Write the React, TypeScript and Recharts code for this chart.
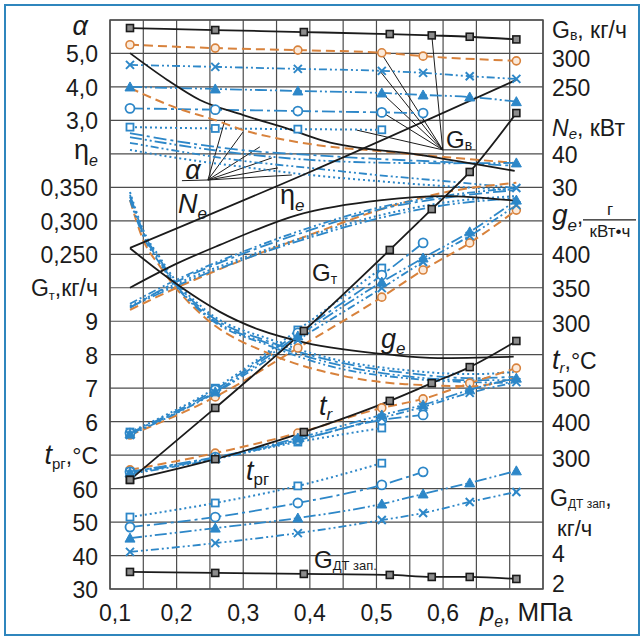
import React from 'react'
import { ComposedChart, Line, XAxis, YAxis, CartesianGrid, ReferenceLine, ReferenceArea, Customized } from 'recharts'

const BLACK = '#1b1b1b'
const ORANGE = '#d8823c'
const BLUE = '#2d87c8'
const FONT = '"Liberation Sans", Arial, sans-serif'

// p_e, МПа – measurement points
const pK = [0.13, 0.258, 0.391, 0.52, 0.583, 0.64, 0.71]
const pA = [0.13, 0.258, 0.382, 0.508, 0.57, 0.64, 0.71]
const pGvO = [0.13, 0.258, 0.382, 0.508, 0.57, 0.71]
const pCurve = [0.13, 0.2, 0.3, 0.4, 0.5, 0.6, 0.71]
const pAlphaK = [0.13, 0.186, 0.235, 0.3, 0.373, 0.4225, 0.565, 0.7075]
const pAlphaO = [0.13, 0.2, 0.258, 0.3, 0.35, 0.412, 0.5, 0.6, 0.7075]
const pNe = [0.13, 0.4, 0.71]
const pEtaK = [0.13, 0.2, 0.265, 0.382, 0.508, 0.6, 0.71]
const pGeK = [0.13, 0.1855, 0.235, 0.265, 0.325, 0.3925, 0.52, 0.592, 0.706]
const pGe = [0.13, 0.15, 0.175, 0.193, 0.243, 0.343, 0.442, 0.543, 0.643, 0.706]

// G_в, кг/ч
const gvK = [338, 335, 332, 329, 327, 325, 321]
const gvO = [313, 308, 305, 301, 296, 289]
const gvX = [283, 280, 277, 274, 271, 266, 262]
const gvT = [250, 247, 244, 241, 238, 235, 228]
const gvC = [218, 216, 214, 212, 211]
const gvS = [190, 188, 187, 186]

// alpha
const alphaK = [5.01, 4.21, 3.61, 3.16, 2.71, 2.38, 1.97, 1.49]
const alphaO = [3.97, 3.37, 3.01, 2.71, 2.47, 2.26, 2.09, 1.91, 1.73]
const alphaC = [2.62, 2.38, 2.11, 1.97, 1.85, 1.76, 1.64]
const alphaT = [2.5, 2.27, 2.0, 1.82, 1.74, 1.72, 1.73]
const alphaX = [2.33, 2.09, 1.79, 1.58, 1.37, 1.19, 0.98]
const alphaS = [2.12, 1.88, 1.61, 1.37, 1.19, 1.04, 0.92]

// N_e, кВт
const neK = [11.9, 34.6, 62.1]

// eta_e
const etaK = [0.2, 0.236, 0.264, 0.309, 0.331, 0.337, 0.33]
const etaO = [0.167, 0.2, 0.242, 0.279, 0.315, 0.342, 0.357]
const etaS = [0.173, 0.206, 0.245, 0.278, 0.307, 0.327, 0.337]
const etaC = [0.17, 0.209, 0.251, 0.286, 0.316, 0.334, 0.346]
const etaT = [0.171, 0.203, 0.242, 0.275, 0.303, 0.323, 0.334]
const etaX = [0.176, 0.212, 0.254, 0.29, 0.319, 0.337, 0.349]

// g_e, г/(кВт·ч)
const geK = [409, 366, 332, 314, 287, 268, 250, 245, 247]
const geO = [481, 421, 382, 357, 305, 250, 220, 206, 203, 215]
const geS = [493, 436, 395, 368, 317, 272, 242, 227, 221, 224]
const geC = [489, 433, 392, 365, 314, 268, 239, 223, 215, 217]
const geT = [486, 430, 389, 362, 311, 265, 235, 218, 212, 212]
const geX = [481, 427, 386, 360, 309, 262, 230, 215, 209, 208]

// G_т, кг/ч
const gtK = [4.26, 6.41, 8.71, 11.13, 12.35, 13.46, 15.22]
const gtO = [5.6, 6.74, 8.2, 9.72, 10.53, 11.34, 12.32]
const gtS = [5.69, 7.0, 8.74, 10.59]
const gtC = [5.66, 6.95, 8.65, 10.38, 11.34]
const gtT = [5.63, 6.89, 8.56, 10.17, 10.89, 11.67, 12.62]
const gtX = [5.6, 6.86, 8.44, 9.99, 10.77, 11.55, 12.47]

// t_r, °C
const trK = [226, 288, 369, 462, 515, 563, 641]
const trO = [256, 306, 366, 441, 468, 515, 560]
const trS = [250, 291, 339, 381]
const trC = [250, 294, 345, 405, 420]
const trT = [247, 291, 351, 420, 450, 495, 530]
const trX = [244, 288, 345, 411, 444, 486, 518]

// t_рг, °C
const trgS = [51.5, 55.7, 60.8, 67.6]
const trgC = [48.5, 51.5, 55.7, 61.1, 65.0]
const trgT = [45.2, 48.2, 51.2, 55.4, 58.4, 61.7, 65.3]
const trgX = [41.1, 43.7, 46.7, 50.6, 52.7, 56.0, 59.0]

// G_ДТзап, кг/ч
const gdtK = [3.02, 2.96, 2.9, 2.84, 2.72, 2.72, 2.6]

// tick labels, by grid row (0 = bottom)
const leftTicks = ['30', '40', '50', '60', 'tpg', '6', '7', '8', '9', 'Gt', '0,250', '0,300', '0,350', 'eta', '3,0', '4,0', '5,0', 'alpha']
const rightTicks = ['2', '4', 'kgh', 'Gdt', '300', '400', '500', 'tr', '300', '350', '400', 'ge', '30', '40', 'Ne', '250', '300', 'Gv']
const xTicks = [0.1, 0.15, 0.2, 0.25, 0.3, 0.35, 0.4, 0.45, 0.5, 0.55, 0.6, 0.65, 0.7, 0.75]
const xLabels: Record<string, string> = { '0.1': '0,1', '0.2': '0,2', '0.3': '0,3', '0.4': '0,4', '0.5': '0,5', '0.6': '0,6' }
const rows = Array.from({ length: 18 }, (_, i) => i)

type Pt = { p: number; v: number }
const pts = (ps: number[], vs: number[]): Pt[] => vs.map((v, i) => ({ p: ps[i], v }))

const styles: Record<string, { stroke: string; dash?: string; width: number }> = {
  K: { stroke: BLACK, width: 1.8 },
  O: { stroke: ORANGE, dash: '9 5', width: 2 },
  X: { stroke: BLUE, dash: '8 3 2 3 2 3', width: 1.8 },
  T: { stroke: BLUE, dash: '12 3 2 3 2 3', width: 1.8 },
  C: { stroke: BLUE, dash: '13 4 3 4', width: 1.8 },
  S: { stroke: BLUE, dash: '2 3', width: 2 },
}

// dots: 'all' | 'none' | 'end'
type Series = { id: string; axis: string; kind: string; data: Pt[]; dots: string }
const series: Series[] = [
  // colored first, black on top
  { id: 'gvO', axis: 'gv', kind: 'O', data: pts(pGvO, gvO), dots: 'all' },
  { id: 'gvX', axis: 'gv', kind: 'X', data: pts(pA, gvX), dots: 'all' },
  { id: 'gvT', axis: 'gv', kind: 'T', data: pts(pA, gvT), dots: 'all' },
  { id: 'gvC', axis: 'gv', kind: 'C', data: pts(pA, gvC), dots: 'all' },
  { id: 'gvS', axis: 'gv', kind: 'S', data: pts(pA, gvS), dots: 'all' },
  { id: 'alphaO', axis: 'alpha', kind: 'O', data: pts(pAlphaO, alphaO), dots: 'none' },
  { id: 'alphaC', axis: 'alpha', kind: 'C', data: pts(pCurve, alphaC), dots: 'none' },
  { id: 'alphaT', axis: 'alpha', kind: 'T', data: pts(pCurve, alphaT), dots: 'end' },
  { id: 'alphaX', axis: 'alpha', kind: 'X', data: pts(pCurve, alphaX), dots: 'none' },
  { id: 'alphaS', axis: 'alpha', kind: 'S', data: pts(pCurve, alphaS), dots: 'none' },
  { id: 'etaO', axis: 'eta', kind: 'O', data: pts(pCurve, etaO), dots: 'none' },
  { id: 'etaS', axis: 'eta', kind: 'S', data: pts(pCurve, etaS), dots: 'none' },
  { id: 'etaC', axis: 'eta', kind: 'C', data: pts(pCurve, etaC), dots: 'none' },
  { id: 'etaT', axis: 'eta', kind: 'T', data: pts(pCurve, etaT), dots: 'none' },
  { id: 'etaX', axis: 'eta', kind: 'X', data: pts(pCurve, etaX), dots: 'end' },
  { id: 'geO', axis: 'ge', kind: 'O', data: pts(pGe, geO), dots: 'none' },
  { id: 'geS', axis: 'ge', kind: 'S', data: pts(pGe, geS), dots: 'none' },
  { id: 'geC', axis: 'ge', kind: 'C', data: pts(pGe, geC), dots: 'none' },
  { id: 'geT', axis: 'ge', kind: 'T', data: pts(pGe, geT), dots: 'none' },
  { id: 'geX', axis: 'ge', kind: 'X', data: pts(pGe, geX), dots: 'none' },
  { id: 'gtO', axis: 'gt', kind: 'O', data: pts(pA, gtO), dots: 'all' },
  { id: 'gtS', axis: 'gt', kind: 'S', data: pts(pA, gtS), dots: 'all' },
  { id: 'gtC', axis: 'gt', kind: 'C', data: pts(pA, gtC), dots: 'all' },
  { id: 'gtT', axis: 'gt', kind: 'T', data: pts(pA, gtT), dots: 'all' },
  { id: 'gtX', axis: 'gt', kind: 'X', data: pts(pA, gtX), dots: 'all' },
  { id: 'trO', axis: 'tr', kind: 'O', data: pts(pA, trO), dots: 'all' },
  { id: 'trS', axis: 'tr', kind: 'S', data: pts(pA, trS), dots: 'all' },
  { id: 'trC', axis: 'tr', kind: 'C', data: pts(pA, trC), dots: 'all' },
  { id: 'trT', axis: 'tr', kind: 'T', data: pts(pA, trT), dots: 'all' },
  { id: 'trX', axis: 'tr', kind: 'X', data: pts(pA, trX), dots: 'all' },
  { id: 'trgS', axis: 'trg', kind: 'S', data: pts(pA, trgS), dots: 'all' },
  { id: 'trgC', axis: 'trg', kind: 'C', data: pts(pA, trgC), dots: 'all' },
  { id: 'trgT', axis: 'trg', kind: 'T', data: pts(pA, trgT), dots: 'all' },
  { id: 'trgX', axis: 'trg', kind: 'X', data: pts(pA, trgX), dots: 'all' },
  { id: 'gvK', axis: 'gv', kind: 'K', data: pts(pK, gvK), dots: 'all' },
  { id: 'alphaK', axis: 'alpha', kind: 'K', data: pts(pAlphaK, alphaK), dots: 'none' },
  { id: 'neK', axis: 'ne', kind: 'K', data: pts(pNe, neK), dots: 'none' },
  { id: 'etaK', axis: 'eta', kind: 'K', data: pts(pEtaK, etaK), dots: 'none' },
  { id: 'geK', axis: 'ge', kind: 'K', data: pts(pGeK, geK), dots: 'none' },
  { id: 'gtK', axis: 'gt', kind: 'K', data: pts(pK, gtK), dots: 'all' },
  { id: 'trK', axis: 'tr', kind: 'K', data: pts(pK, trK), dots: 'all' },
  { id: 'gdtK', axis: 'gdt', kind: 'K', data: pts(pK, gdtK), dots: 'all' },
]

// hidden value axes, all spanning the 17 grid rows
const axes: Record<string, [number, number]> = {
  alpha: [-11, 6],
  gv: [-500, 350],
  ne: [-90, 80],
  eta: [-0.25, 0.6],
  ge: [-100, 750],
  gt: [1, 18],
  tr: [-100, 1600],
  trg: [30, 200],
  gdt: [2, 36],
}

// leader lines, in (p_e, grid row)
const alphaFrom = { x: 0.247, y: 12.22 }
const alphaTo = [[0.2725, 14.01], [0.2995, 13.65], [0.325, 13.21], [0.343, 12.88], [0.352, 12.58], [0.373, 12.37]]
const gvFrom = { x: 0.5995, y: 13.12 }
const gvTo = [[0.583, 16.55], [0.508, 15.98], [0.505, 15.48], [0.508, 14.82], [0.508, 14.25], [0.4705, 13.71]]

const marker = (kind: string, endOnly: boolean, last: number) => (props: any) => {
  const { cx, cy, index } = props
  if (cx == null || cy == null || (endOnly && index !== last)) return <g key={index} />
  if (kind === 'K') return <rect key={index} x={cx - 3.5} y={cy - 3.5} width={7} height={7} fill="#8c8c8c" stroke={BLACK} strokeWidth={1.6} />
  if (kind === 'O') return <circle key={index} cx={cx} cy={cy} r={4} fill="#fbeadb" stroke={ORANGE} strokeWidth={1.6} />
  if (kind === 'X') return <path key={index} d={`M${cx - 4},${cy - 4}L${cx + 4},${cy + 4}M${cx - 4},${cy + 4}L${cx + 4},${cy - 4}`} stroke={BLUE} strokeWidth={2} />
  if (kind === 'T') return <path key={index} d={`M${cx},${cy - 5}L${cx + 5},${cy + 4}L${cx - 5},${cy + 4}Z`} fill={BLUE} stroke={BLUE} />
  if (kind === 'C') return <circle key={index} cx={cx} cy={cy} r={4.5} fill="#fff" stroke={BLUE} strokeWidth={1.8} />
  return <rect key={index} x={cx - 3.5} y={cy - 3.5} width={7} height={7} fill="#fff" stroke={BLUE} strokeWidth={1.8} />
}

const txt = { fontFamily: FONT, fill: BLACK }

function LeftTick(props: any) {
  const { x, y, payload } = props
  const t = leftTicks[payload.value]
  const c = { ...txt, fontSize: 23, textAnchor: 'end' as const }
  if (t === 'alpha') return <text x={x - 10} y={y + 15} {...c} fontSize={27} fontStyle="italic">α</text>
  if (t === 'eta') return <text x={x} y={y + 5} {...c} fontSize={27}>η<tspan fontSize={16} dy={7} fontStyle="italic">e</tspan></text>
  if (t === 'Gt') return <text x={x} y={y + 8} {...c}>G<tspan fontSize={13} dy={4}>т</tspan><tspan dy={-4}>,кг/ч</tspan></text>
  if (t === 'tpg') return <text x={x} y={y + 9} {...c}><tspan fontStyle="italic" fontSize={27}>t</tspan><tspan fontSize={15} dy={5}>рг</tspan><tspan dy={-5}>,°C</tspan></text>
  return <text x={x} y={y + 9} {...c}>{t}</text>
}

function RightTick(props: any) {
  const { x, y, payload } = props
  const t = rightTicks[payload.value]
  const c = { ...txt, fontSize: 23, textAnchor: 'start' as const }
  if (t === 'Gv') return <text x={x} y={y + 18} {...c}>G<tspan fontSize={14} dy={2}>в</tspan><tspan dy={-2}>, кг/ч</tspan></text>
  if (t === 'Ne') return <text x={x} y={y + 16} {...c}><tspan fontStyle="italic">N</tspan><tspan fontSize={15} dy={3} fontStyle="italic">e</tspan><tspan dy={-3}>, кВт</tspan></text>
  if (t === 'ge')
    return (
      <g>
        <text x={x} y={y + 3} {...c} fontSize={28} fontStyle="italic">g<tspan fontSize={17} dy={7}>e</tspan><tspan dy={-7} fontStyle="normal" fontSize={22}>,</tspan></text>
        <text x={x + 58} y={y - 6} {...c} fontSize={17} textAnchor="middle">г</text>
        <line x1={x + 31} x2={x + 84} y1={y - 1} y2={y - 1} stroke={BLACK} strokeWidth={1.2} />
        <text x={x + 58} y={y + 16} {...c} fontSize={17} textAnchor="middle">кВт•ч</text>
      </g>
    )
  if (t === 'tr') return <text x={x} y={y + 14} {...c}><tspan fontStyle="italic" fontSize={27}>t</tspan><tspan fontSize={15} dy={4} fontStyle="italic">r</tspan><tspan dy={-4}>,°C</tspan></text>
  if (t === 'Gdt') return <text x={x - 2} y={y + 17} {...c}>G<tspan fontSize={12} dy={2}>ДТ зап</tspan><tspan dy={-2}>,</tspan></text>
  if (t === 'kgh') return <text x={x + 5} y={y + 14} {...c} fontSize={22}>кг/ч</text>
  const dy: Record<number, number> = { 16: 14, 0: 3, 1: 6.5, 4: 12, 8: 10.5 }
  return <text x={x} y={y + (dy[payload.value] ?? 9)} {...c}>{t}</text>
}

function XTick(props: any) {
  const { x, y, payload } = props
  const v = payload.value
  if (Math.abs(v - 0.7) < 1e-6)
    return (
      <text x={x - 30} y={y + 32} {...txt} fontSize={26}>
        <tspan fontStyle="italic">p</tspan><tspan fontSize={16} dy={6} fontStyle="italic">e</tspan><tspan dy={-6}>, МПа</tspan>
      </text>
    )
  const label = xLabels[String(Math.round(v * 100) / 100)]
  if (!label) return <g />
  return <text x={x + (v === 0.1 ? 5 : 0)} y={y + 32} {...txt} fontSize={23} textAnchor="middle">{label}</text>
}

function Annotations() {
  return (
    <g style={{ fontFamily: FONT }} fill={BLACK}>
      <text x={193} y={179} fontSize={27} fontStyle="italic" textAnchor="middle">α</text>
      <text x={178} y={213} fontSize={27} fontStyle="italic">N<tspan fontSize={17} dy={6}>e</tspan></text>
      <text x={280} y={204} fontSize={27}>η<tspan fontSize={17} dy={7} fontStyle="italic">e</tspan></text>
      <text x={446} y={148} fontSize={24}>G<tspan fontSize={14} dy={2}>в</tspan></text>
      <text x={312} y={281} fontSize={24}>G<tspan fontSize={14} dy={3}>т</tspan></text>
      <text x={381} y={348} fontSize={27} fontStyle="italic">g<tspan fontSize={17} dy={6}>e</tspan></text>
      <text x={319} y={415} fontSize={27} fontStyle="italic">t<tspan fontSize={17} dy={5}>r</tspan></text>
      <text x={246} y={480} fontSize={27} fontStyle="italic">t<tspan fontSize={17} dy={5} fontStyle="normal">рг</tspan></text>
      <text x={314} y={568} fontSize={24}>G<tspan fontSize={13} dy={2}>ДТ зап.</tspan></text>
    </g>
  )
}

export default function App() {
  return (
    <div style={{ position: 'absolute', left: 0, top: 0, width: 644, height: 640, background: '#fff' }}>
      <div style={{ position: 'absolute', left: 4, top: 4, width: 636, height: 632, border: '2px solid #2f86bd', boxSizing: 'border-box' }} />
      <div style={{ position: 'absolute', left: 0, top: 0 }}>
        <ComposedChart width={644} height={640} margin={{ top: 20, right: 0, bottom: 0, left: 0 }}>
          <XAxis dataKey="p" type="number" domain={[0.1, 0.75]} ticks={xTicks} allowDataOverflow height={51} tickSize={0} tickMargin={0} axisLine={false} tickLine={false} tick={<XTick />} interval={0} />
          <YAxis yAxisId="L" type="number" domain={[0, 17]} ticks={rows} allowDataOverflow width={110} tickSize={0} tickMargin={12} axisLine={false} tickLine={false} tick={<LeftTick />} interval={0} />
          <YAxis yAxisId="R" orientation="right" type="number" domain={[0, 17]} ticks={rows} allowDataOverflow width={101} tickSize={0} tickMargin={9} axisLine={false} tickLine={false} tick={<RightTick />} interval={0} />
          {Object.entries(axes).map(([id, d]) => (
            <YAxis key={id} yAxisId={id} type="number" domain={d} allowDataOverflow hide />
          ))}
          <CartesianGrid yAxisId="L" stroke="#4d4d4d" strokeWidth={1.2} />
          <ReferenceArea yAxisId="L" x1={0.1} x2={0.75} y1={0} y2={17} fill="none" stroke="#4d4d4d" strokeWidth={1.4} />
          {alphaTo.map(([x, y], i) => (
            <ReferenceLine key={'a' + i} yAxisId="L" segment={[alphaFrom, { x, y }]} stroke={BLACK} strokeWidth={1} />
          ))}
          <ReferenceLine yAxisId="L" segment={[{ x: 0.208, y: 12.2 }, alphaFrom]} stroke={BLACK} strokeWidth={1} />
          {gvTo.map(([x, y], i) => (
            <ReferenceLine key={'g' + i} yAxisId="L" segment={[gvFrom, { x, y }]} stroke={BLACK} strokeWidth={1} />
          ))}
          <ReferenceLine yAxisId="L" segment={[gvFrom, { x: 0.649, y: 13.12 }]} stroke={BLACK} strokeWidth={1} />
          {series.map((s) => {
            const st = styles[s.kind]
            return (
              <Line
                key={s.id}
                data={s.data}
                dataKey="v"
                yAxisId={s.axis}
                type="monotone"
                stroke={st.stroke}
                strokeWidth={st.width}
                strokeDasharray={st.dash}
                dot={s.dots === 'none' ? false : marker(s.kind, s.dots === 'end', s.data.length - 1)}
                activeDot={false}
                isAnimationActive={false}
              />
            )
          })}
          <Customized component={Annotations} />
        </ComposedChart>
      </div>
    </div>
  )
}
